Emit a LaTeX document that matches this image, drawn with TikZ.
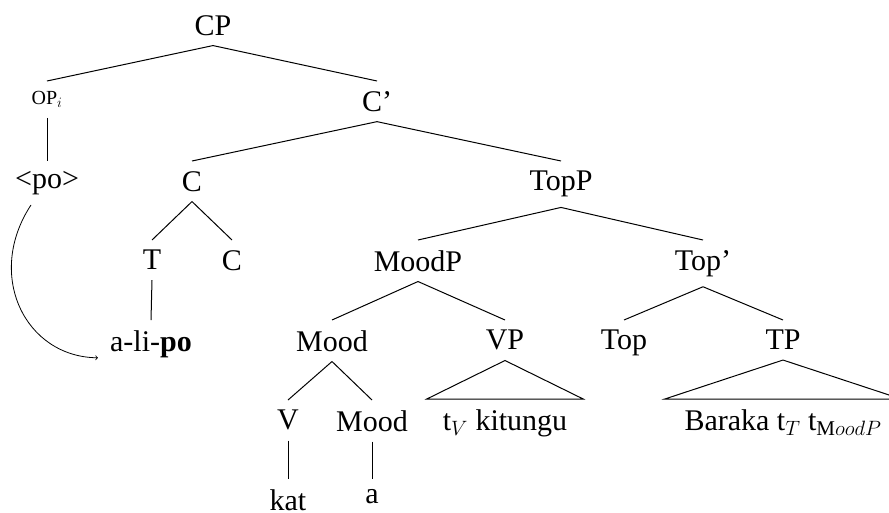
\documentclass[tikz,border=0pt]{standalone}
\usepackage{fontspec}
\setmainfont{Liberation Serif}
\tikzset{
	lbl/.style={black, anchor=north, inner sep=10pt, font=\fontsize{30}{36}\selectfont},
	branch/.style={draw=black, line width=1pt, solid}
}
\begin{document}
\begin{tikzpicture}[x=1pt, y=-1pt]
		\clip (0,0) rectangle (889,512);
		\node[lbl] (cp) at (213,5) {CP};
		\node[lbl] (op) at (47,81) {\fontsize{20}{24}\selectfont OP$_i$};
		\node[lbl] (cbar) at (377,81) {C'};
		\node[lbl] (po) at (47,161) {<po>};
		\node[lbl] (c) at (192,161) {C};
		\node[lbl] (topp) at (561,161) {TopP};
		\node[lbl] (t) at (152,240) {T};
		\node[lbl] (chead) at (232,240) {C};
		\node[lbl] (moodp) at (418,240) {MoodP};
		\node[lbl] (topbar) at (703,240) {Top'};
		\node[lbl] (ali) at (151,320) {a-li-\textbf{po}};
		\node[lbl] (mood) at (332,320) {Mood};
		\node[lbl] (vp) at (505,320) {VP};
		\node[lbl] (top) at (624,320) {Top};
		\node[lbl] (tp) at (783,320) {TP};
		\node[lbl] (v) at (288,400) {V};
		\node[lbl] (moodhead) at (372,400) {Mood};
		\node[lbl, minimum width=156pt] (vpleaf) at (505,399) {t$_V$ kitungu};
		\node[lbl, minimum width=236pt] (tpleaf) at (783,399) {Baraka t$_T$ t$_{\mathrm{M}oodP}$};
		\node[lbl] (kat) at (288,479) {kat};
		\node[lbl] (a) at (372,479) {a};
		\draw[branch] (cp.south) -- (op.north);
		\draw[branch] (cp.south) -- (cbar.north);
		\draw[branch] (op.south) -- (po.north);
		\draw[branch] (cbar.south) -- (c.north);
		\draw[branch] (cbar.south) -- (topp.north);
		\draw[branch] (c.south) -- (t.north);
		\draw[branch] (c.south) -- (chead.north);
		\draw[branch] (topp.south) -- (moodp.north);
		\draw[branch] (topp.south) -- (topbar.north);
		\draw[branch] (t.south) -- (ali.north);
		\draw[branch] (moodp.south) -- (mood.north);
		\draw[branch] (moodp.south) -- (vp.north);
		\draw[branch] (topbar.south) -- (top.north);
		\draw[branch] (topbar.south) -- (tp.north);
		\draw[branch] (mood.south) -- (v.north);
		\draw[branch] (mood.south) -- (moodhead.north);
		\draw[branch] (vp.south) -- (vpleaf.north west) -- (vpleaf.north east) -- cycle;
		\draw[branch] (tp.south) -- (tpleaf.north west) -- (tpleaf.north east) -- cycle;
		\draw[branch] (v.south) -- (kat.north);
		\draw[branch] (moodhead.south) -- (a.north);
		\draw[draw=black, line width=0.8pt, ->] ([xshift=-16pt]po.south) .. controls (-15,275) and (25,357) .. ([xshift=-2pt, yshift=-14pt]ali.west);
	\end{tikzpicture}
\end{document}
